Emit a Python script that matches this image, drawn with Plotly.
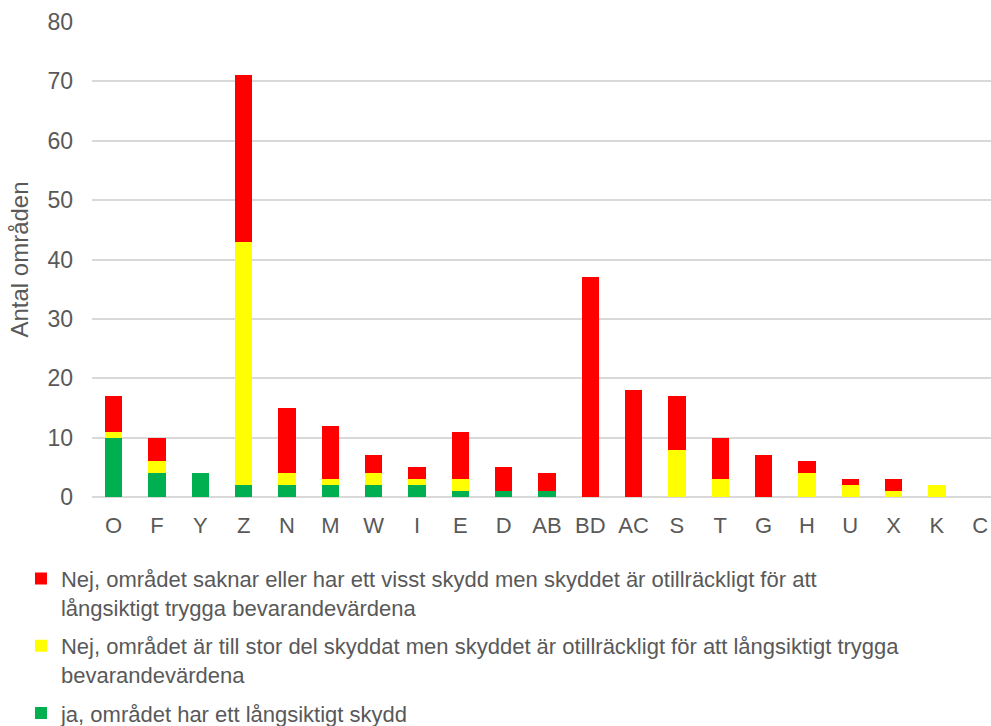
import plotly.graph_objects as go

categories = ["O", "F", "Y", "Z", "N", "M", "W", "I", "E", "D", "AB", "BD", "AC", "S", "T", "G", "H", "U", "X", "K", "C"]
green_vals = [10, 4, 4, 2, 2, 2, 2, 2, 1, 1, 1, 0, 0, 0, 0, 0, 0, 0, 0, 0, 0]
yellow_vals = [1, 2, 0, 41, 2, 1, 2, 1, 2, 0, 0, 0, 0, 8, 3, 0, 4, 2, 1, 2, 0]
red_vals = [6, 4, 0, 28, 11, 9, 3, 2, 8, 4, 3, 37, 18, 9, 7, 7, 2, 1, 2, 0, 0]

name_red = "Nej, området saknar eller har ett visst skydd men skyddet är otillräckligt för att<br>långsiktigt trygga bevarandevärdena"
name_yellow = "Nej, området är till stor del skyddat men skyddet är otillräckligt för att långsiktigt trygga<br>bevarandevärdena"
name_green = "ja, området har ett långsiktigt skydd"

fig = go.Figure()
fig.add_trace(go.Bar(x=categories, y=green_vals, name=name_green, marker_color="#00B050",
                     legendgroup="g", legendrank=3))
fig.add_trace(go.Bar(x=categories, y=yellow_vals, name=name_yellow, marker_color="#FFFF00",
                     legendgroup="y", legendrank=2))
fig.add_trace(go.Bar(x=categories, y=red_vals, name=name_red, marker_color="#FF0000",
                     legendgroup="r", legendrank=1))

fig.update_traces(marker_line_width=0)

fig.update_layout(
    width=991, height=726,
    barmode="stack", bargap=0.6,
    plot_bgcolor="white", paper_bgcolor="white",
    margin=dict(l=92, r=0, t=22, b=229, autoexpand=False),
    font=dict(family="Arial, Liberation Sans, sans-serif", size=22, color="#595959"),
    xaxis=dict(range=[-0.5, 20.25], showgrid=False, showline=False, ticks="", automargin=False,
               tickfont=dict(size=22, color="#595959"), ticklabelstandoff=13),
    yaxis=dict(range=[0, 80], dtick=10, showgrid=True, gridcolor="#D9D9D9", gridwidth=1.5,
               zeroline=True, zerolinecolor="#D9D9D9", zerolinewidth=2, automargin=False,
               title=dict(text="Antal områden", font=dict(size=24, color="#595959"), standoff=12),
               tickfont=dict(size=23, color="#595959"), ticks="", ticklabelstandoff=18),
    legend=dict(x=-0.079, y=-0.128, xanchor="left", yanchor="top", valign="top",
                traceorder="grouped", tracegroupgap=7, itemwidth=30,
                font=dict(size=22, color="#595959")),
    showlegend=True,
)

fig.write_html(
    "out.html",
    config={"displayModeBar": False},
    post_script="document.body.style.margin='0';document.body.style.overflow='hidden';",
)
